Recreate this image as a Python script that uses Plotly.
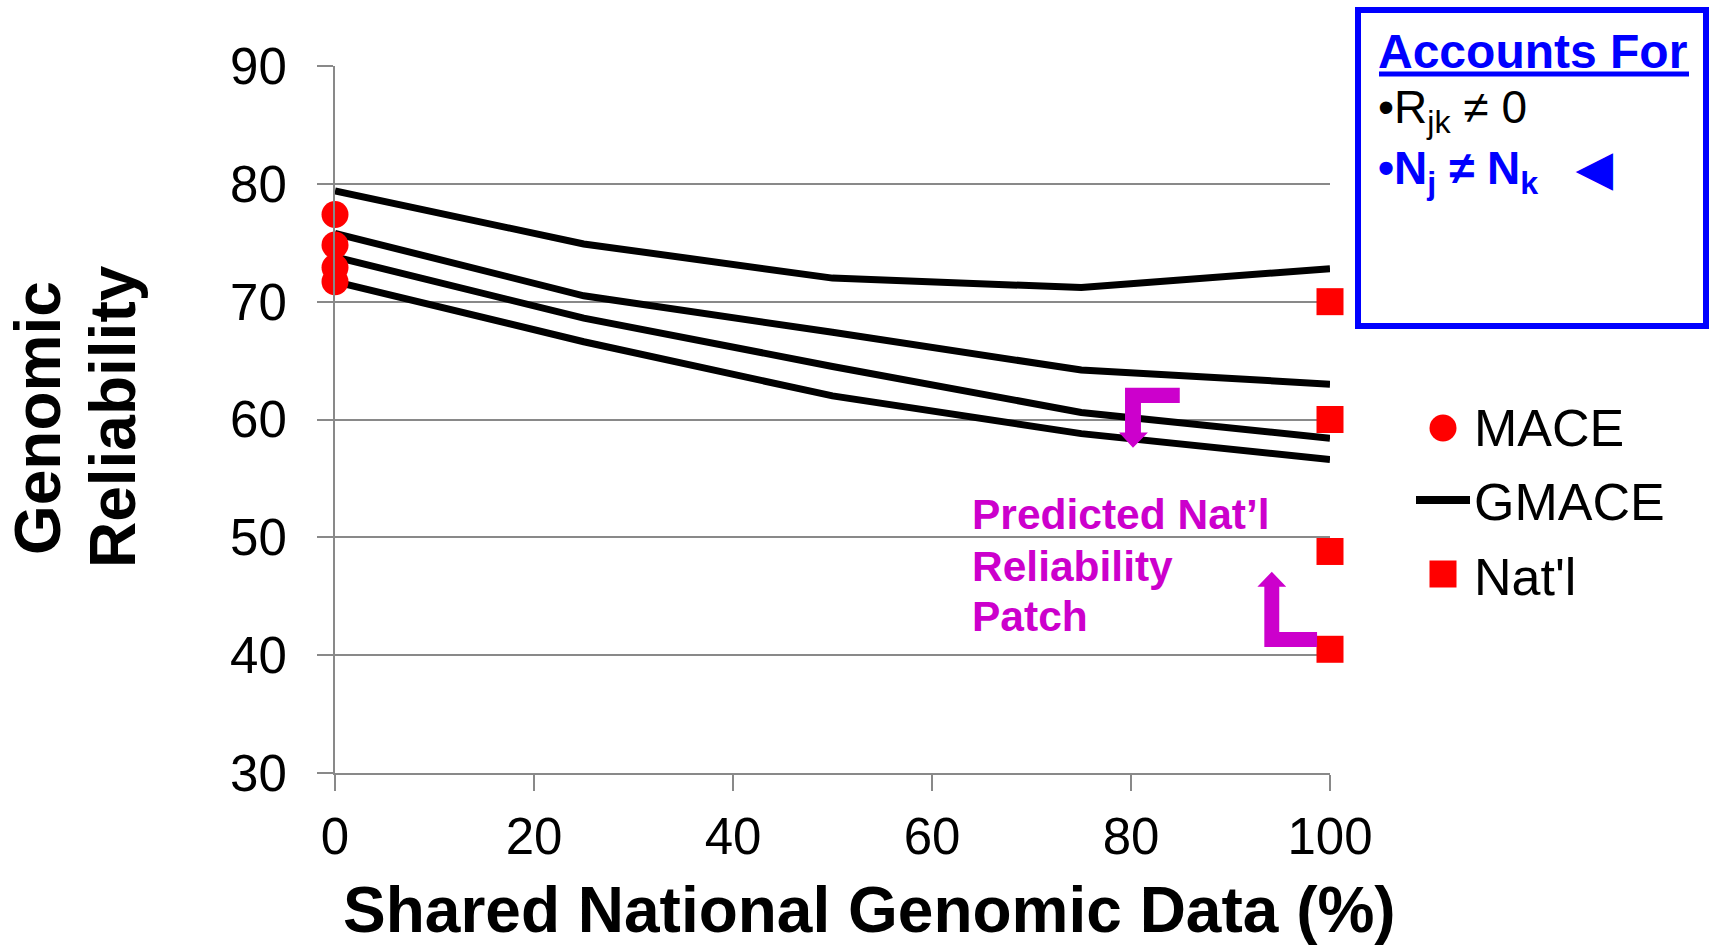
import plotly.graph_objects as go

# ---------------- data ----------------
share_pct = [0, 25, 50, 75, 100]
gmace_1 = [79.4, 74.9, 72.0, 71.2, 72.8]
gmace_2 = [75.8, 70.5, 67.4, 64.2, 63.0]
gmace_3 = [73.8, 68.6, 64.5, 60.6, 58.4]
gmace_4 = [71.7, 66.6, 62.0, 58.8, 56.6]

mace_x = [0, 0, 0, 0]
mace_values = [77.4, 74.8, 72.9, 71.7]

natl_x = [100, 100, 100, 100]
natl_values = [70.0, 60.0, 48.8, 40.5]

x_ticks = [0, 20, 40, 60, 80, 100]
y_ticks = [30, 40, 50, 60, 70, 80, 90]

note_lines = ["Predicted Nat’l", "Reliability", "Patch"]

# ---------------- layout helpers ----------------
W, H = 1710, 947
L, R, T, B = 335, 380, 66, 174
PW, PH = W - L - R, H - T - B


def xp(px):
    return (px - L) / PW


def yp(py):
    return (H - B - py) / PH


FONT = "Liberation Sans, Arial, sans-serif"
GRAY = "#898989"
MAGENTA = "#CC00CC"
BLUE = "#0000FF"
RED = "#FF0000"

fig = go.Figure()

gmace_lines = [gmace_1, gmace_2, gmace_3, gmace_4]
for i, ys in enumerate(gmace_lines):
    fig.add_trace(go.Scatter(
        x=share_pct, y=ys, mode="lines", name="GMACE",
        line=dict(color="black", width=7),
        legendgroup="gmace", showlegend=(i == 0), legendrank=2,
        cliponaxis=False,
    ))

fig.add_trace(go.Scatter(
    x=mace_x, y=mace_values, mode="markers", name="MACE",
    marker=dict(color=RED, size=27, symbol="circle"),
    legendgroup="mace", legendrank=1, cliponaxis=False,
))

fig.add_trace(go.Scatter(
    x=natl_x, y=natl_values, mode="markers", name="Nat'l",
    marker=dict(color=RED, size=27, symbol="square"),
    legendgroup="natl", legendrank=3, cliponaxis=False,
))

# magenta elbow arrows (data coordinates)
arrow_down = "M79.4,62.7 L84.9,62.7 L84.9,61.4 L81.0,61.4 L81.0,58.9 L81.7,58.9 L80.2,57.6 L78.8,58.9 L79.4,58.9 Z"
arrow_up = "M94.15,47.07 L95.6,45.8 L94.9,45.8 L94.9,41.97 L98.7,41.97 L98.7,40.7 L93.4,40.7 L93.4,45.8 L92.7,45.8 Z"

shapes = [
    dict(type="path", path=arrow_down, xref="x", yref="y",
         fillcolor=MAGENTA, line=dict(width=0), layer="above"),
    dict(type="path", path=arrow_up, xref="x", yref="y",
         fillcolor=MAGENTA, line=dict(width=0), layer="above"),
    # "Accounts For" box
    dict(type="rect", xref="paper", yref="paper",
         x0=xp(1358), x1=xp(1706), y0=yp(326), y1=yp(10),
         line=dict(color=BLUE, width=6), fillcolor="white", layer="above"),
    # underline of the box heading
    dict(type="line", xref="paper", yref="paper",
         x0=xp(1379), x1=xp(1689), y0=yp(74), y1=yp(74),
         line=dict(color=BLUE, width=5), layer="above"),
    # enlarged legend symbols (same look as the plotted marks)
    dict(type="circle", xref="paper", yref="paper",
         x0=xp(1443 - 13.5), x1=xp(1443 + 13.5), y0=yp(428 + 13.5), y1=yp(428 - 13.5),
         fillcolor=RED, line=dict(width=0), layer="above"),
    dict(type="line", xref="paper", yref="paper",
         x0=xp(1416), x1=xp(1470), y0=yp(500), y1=yp(500),
         line=dict(color="black", width=8), layer="above"),
    dict(type="rect", xref="paper", yref="paper",
         x0=xp(1443 - 13.5), x1=xp(1443 + 13.5), y0=yp(574 + 13.5), y1=yp(574 - 13.5),
         fillcolor=RED, line=dict(width=0), layer="above"),
]

annotations = [
    # axis titles
    dict(text="<b>Shared National Genomic Data (%)</b>", xref="paper", yref="paper",
         x=xp(869), y=yp(910), xanchor="center", yanchor="middle", showarrow=False,
         font=dict(family=FONT, size=64, color="black")),
    dict(text="<b>Genomic</b>", xref="paper", yref="paper",
         x=xp(38), y=yp(418), xanchor="center", yanchor="middle", showarrow=False,
         textangle=-90, font=dict(family=FONT, size=64, color="black")),
    dict(text="<b>Reliability</b>", xref="paper", yref="paper",
         x=xp(113), y=yp(417), xanchor="center", yanchor="middle", showarrow=False,
         textangle=-90, font=dict(family=FONT, size=64, color="black")),
    # box contents
    dict(text="<b>Accounts For</b>", xref="paper", yref="paper",
         x=xp(1376), y=yp(51), xanchor="left", yanchor="middle", showarrow=False,
         font=dict(family=FONT, size=48, color=BLUE)),
    dict(text="•R<sub>jk</sub> ≠ 0", xref="paper", yref="paper",
         x=xp(1376), y=yp(110), xanchor="left", yanchor="middle", showarrow=False,
         font=dict(family=FONT, size=46, color="black")),
    dict(text="<b>•N<sub>j</sub> ≠ N<sub>k</sub>   ◀</b>", xref="paper", yref="paper",
         x=xp(1376), y=yp(172), xanchor="left", yanchor="middle", showarrow=False,
         font=dict(family=FONT, size=46, color=BLUE)),
]

# magenta note, one annotation per line for tight spacing
for line_text, py in zip(note_lines, [514, 566, 616]):
    annotations.append(dict(
        text=f"<b>{line_text}</b>", xref="paper", yref="paper",
        x=xp(970), y=yp(py), xanchor="left", yanchor="middle", align="left",
        showarrow=False, font=dict(family=FONT, size=42.5, color=MAGENTA)))

fig.update_layout(
    width=W, height=H,
    margin=dict(l=L, r=R, t=T, b=B, pad=0),
    paper_bgcolor="white", plot_bgcolor="white",
    font=dict(family=FONT, color="black"),
    shapes=shapes, annotations=annotations,
    showlegend=True,
    legend=dict(
        x=xp(1412), y=yp(385), xanchor="left", yanchor="top",
        font=dict(family=FONT, size=52, color="black"),
        bgcolor="rgba(0,0,0,0)", tracegroupgap=4, itemsizing="trace",
        itemwidth=52,
    ),
    xaxis=dict(
        range=[0, 100], tickvals=x_ticks, ticktext=[str(v) for v in x_ticks],
        showgrid=False, zeroline=False, showline=True, linecolor=GRAY, linewidth=2,
        ticks="outside", ticklen=16, tickwidth=2, tickcolor=GRAY,
        tickfont=dict(family=FONT, size=51, color="black"), ticklabelstandoff=2,
    ),
    yaxis=dict(
        range=[30, 90], tickvals=y_ticks, ticktext=[str(v) for v in y_ticks],
        showgrid=True, gridcolor=GRAY, gridwidth=2, zeroline=False,
        showline=True, linecolor=GRAY, linewidth=2,
        ticks="outside", ticklen=16, tickwidth=2, tickcolor=GRAY,
        tickfont=dict(family=FONT, size=51, color="black"), ticklabelstandoff=20,
    ),
)

fig.write_html("out.html")
